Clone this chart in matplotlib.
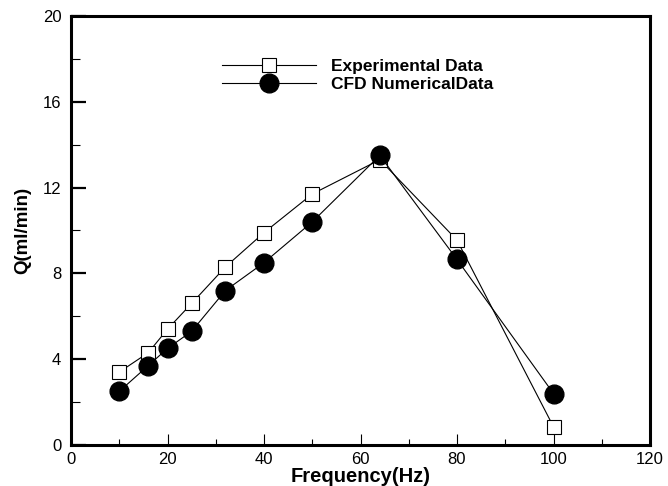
import matplotlib
matplotlib.use("Agg")
import matplotlib.pyplot as plt
from matplotlib.ticker import MultipleLocator

# data
freq = [10, 16, 20, 25, 32, 40, 50, 64, 80, 100]
q_exp = [3.4, 4.3, 5.4, 6.6, 8.3, 9.9, 11.7, 13.3, 9.55, 0.85]
q_cfd = [2.5, 3.7, 4.5, 5.3, 7.2, 8.5, 10.4, 13.5, 8.65, 2.4]
lbl_exp = "Experimental Data"
lbl_cfd = "CFD NumericalData"

plt.rcParams['font.family'] = ['Liberation Sans', 'DejaVu Sans']

def main():
    fig = plt.figure(figsize=(6.68, 4.86), dpi=100)
    ax = fig.add_axes([71/668, 1-445/486, (650-71)/668, (445-16)/486])

    ax.plot(freq, q_exp, color='black', lw=0.8, marker='s', ms=9.5,
            mfc='white', mec='black', mew=0.8, label=lbl_exp)
    ax.plot(freq, q_cfd, color='black', lw=0.8, marker='o', ms=13.5,
            mfc='black', mec='black', label=lbl_cfd)

    ax.set_xlim(0, 120)
    ax.set_ylim(0, 20)
    ax.xaxis.set_major_locator(MultipleLocator(20))
    ax.xaxis.set_minor_locator(MultipleLocator(10))
    ax.yaxis.set_major_locator(MultipleLocator(4))
    ax.yaxis.set_minor_locator(MultipleLocator(2))

    for s in ax.spines.values():
        s.set_linewidth(2.2)

    ax.tick_params(axis='x', which='major', direction='in', length=8, width=0.8,
                   labelsize=12, pad=5)
    ax.tick_params(axis='x', which='minor', direction='in', length=4.5, width=0.8)
    ax.tick_params(axis='y', which='major', direction='in', length=11, width=1.6,
                   labelsize=12, pad=7)
    ax.tick_params(axis='y', which='minor', direction='in', length=6.5, width=0.8)

    ax.set_xlabel("Frequency(Hz)", fontsize=14.5, fontweight='bold', labelpad=0)
    ax.set_ylabel("Q(ml/min)", fontsize=13.5, fontweight='bold', labelpad=8)

    ax.legend(loc='upper left', bbox_to_anchor=((222-71)/579, 0.899), frameon=False,
              prop={'weight': 'bold', 'size': 12.5}, handlelength=5.4,
              handletextpad=0.85, labelspacing=0.15, borderaxespad=0,
              borderpad=0)

    fig.savefig("out.png", dpi=100)

if __name__ == "__main__":
    main()
